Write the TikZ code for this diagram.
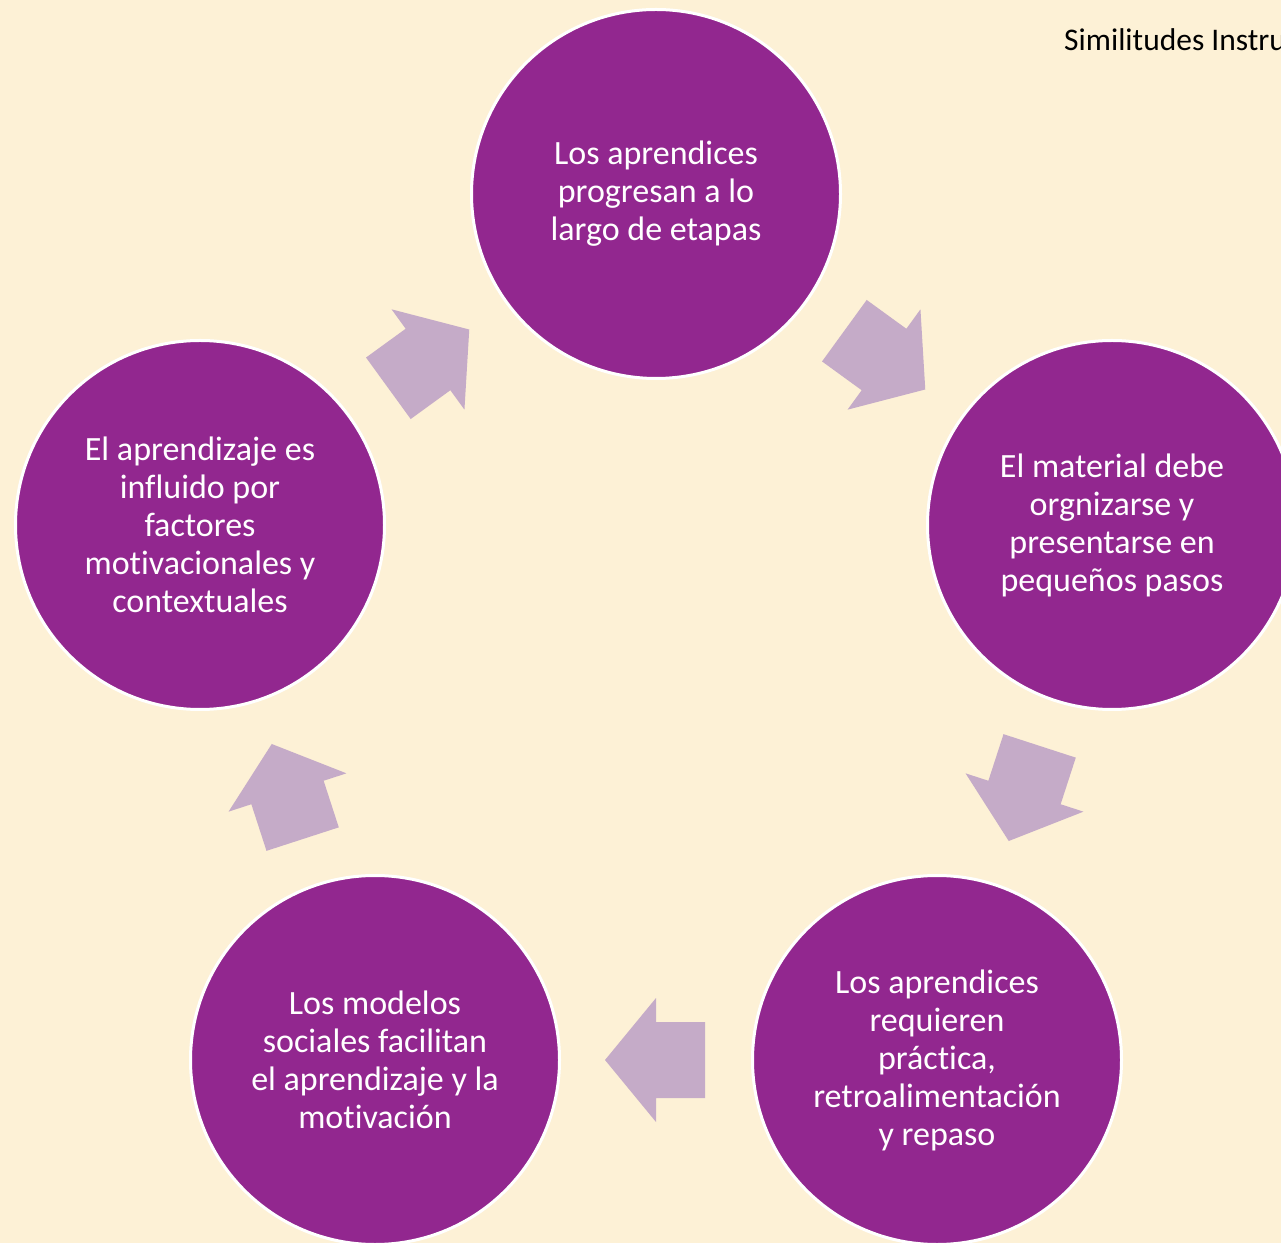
\documentclass[tikz,border=0pt]{standalone}
\usepackage{fontspec}
\setmainfont{Carlito}[Ligatures=NoCommon]
\usetikzlibrary{calc}
\definecolor{bgc}{RGB}{253,241,214}
\definecolor{circ}{RGB}{146,39,143}
\definecolor{arr}{RGB}{197,171,200}
\begin{document}
\begin{tikzpicture}[x=1pt,y=1pt,
  stepcirc/.style={circle, fill=circ, draw=white, line width=3pt, minimum size=369pt,
    inner sep=0pt, text=white, align=center, font=\fontsize{34}{38}\selectfont},
  blockarrow/.style={fill=arr}]
\useasboundingbox (0,0) rectangle (1281,1243);
\clip (0,0) rectangle (1281,1243);
\fill[bgc] (0,0) rectangle (1281,1243);
\node[stepcirc] (t) at (656,1049) {Los aprendices\\progresan a lo\\largo de etapas};
\node[stepcirc] (r) at (1112,718) {El material debe\\orgnizarse y\\presentarse en\\pequeños pasos};
\node[stepcirc] (br) at (937,183) {Los aprendices\\requieren\\práctica,\\retroalimentación\\y repaso};
\node[stepcirc] (bl) at (375,183) {Los modelos\\sociales facilitan\\el aprendizaje y la\\motivación};
\node[stepcirc] (l) at (200,718) {El aprendizaje es\\influido por\\factores\\motivacionales y\\contextuales};
\foreach \a/\b/\ang in {t/r/-36, r/br/-108, br/bl/180, bl/l/108, l/t/36} {
  \fill[blockarrow, shift={($(\a)!0.5!(\b)$)}, rotate=\ang]
    (-49,38) -- (0,38) -- (0,62) -- (51,0) -- (0,-62) -- (0,-38) -- (-49,-38) -- cycle;
}
\node[anchor=base west, inner sep=0pt, font=\fontsize{31.5}{36}\selectfont] (title) at (1064,1192) {Similitudes Instru};
\end{tikzpicture}
\end{document}
